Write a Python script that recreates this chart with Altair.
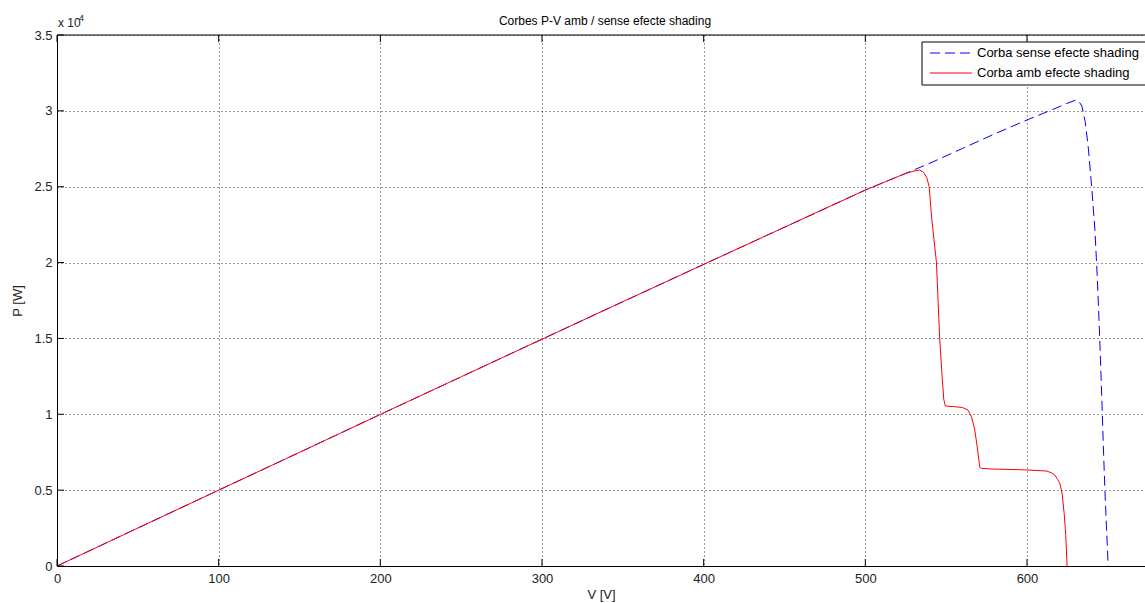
import altair as alt
import pandas as pd

# Series names and colours
series_names = ["Corba sense efecte shading", "Corba amb efecte shading"]
series_colors = ["#0000ff", "#ff0000"]
chart_title = "Corbes P-V amb / sense efecte shading"

# P-V curve without shading (V in volts, P in watts)
v_sense = [0, 50, 100, 150, 200, 250, 300, 350, 400, 450,
           500, 525, 540, 560, 580, 600, 615, 625, 630, 632,
           634, 636, 638, 640, 642, 643.5, 645, 646.3, 647.2, 648.2,
           649.2, 650.2]
p_sense = [0, 2500, 5000, 7490, 9990, 12470, 14950, 17420, 19880, 22330,
           24780, 25880, 26550, 27520, 28480, 29400, 30050, 30500, 30700, 30650,
           30300, 29300, 27500, 25000, 22200, 19000, 15000, 11000, 8000, 5000,
           2500, 0]

# P-V curve with shading
v_amb = [0, 50, 100, 150, 200, 250, 300, 350, 400, 450,
         500, 525, 530, 533.7, 536, 538, 539.5, 541, 542.5, 544,
         546, 547.5, 548.5, 549.5, 555, 560, 563.5, 565.7, 567.7, 569.2,
         570.8, 572, 579, 590, 600, 612, 615, 617.2, 619, 620.3,
         621.7, 623, 624, 624.8]
p_amb = [0, 2500, 5000, 7490, 9990, 12470, 14950, 17420, 19880, 22330,
         24780, 25880, 26030, 26100, 25950, 25600, 25000, 23000, 21500, 20000,
         15000, 12500, 11000, 10550, 10500, 10450, 10280, 9840, 8960, 7860,
         6500, 6430, 6390, 6360, 6330, 6260, 6150, 6000, 5700, 5450,
         4790, 3470, 2000, 0]

x_ticks = [0, 100, 200, 300, 400, 500, 600]
y_ticks = [0, 5000, 10000, 15000, 20000, 25000, 30000, 35000]

W, H = 1088, 531
FONT = "Liberation Sans"
TXT = "#222222"

df_sense = pd.DataFrame({"V": v_sense, "P": p_sense, "corba": series_names[0],
                         "ordre": range(len(v_sense))})
df_amb = pd.DataFrame({"V": v_amb, "P": p_amb, "corba": series_names[1],
                       "ordre": range(len(v_amb))})
df_xt = pd.DataFrame({"V": x_ticks})
df_yt = pd.DataFrame({"P": y_ticks})
df_leg = pd.DataFrame({"corba": series_names})
df_title = pd.DataFrame({"t": [chart_title]})

x_scale = alt.Scale(domain=[0, 673], nice=False)
y_scale = alt.Scale(domain=[0, 35000], nice=False)
color_scale = alt.Scale(domain=series_names, range=series_colors)

x_enc = alt.X("V:Q", scale=x_scale,
              axis=alt.Axis(values=x_ticks, title="V [V]", ticks=False,
                            labelPadding=6, titlePadding=3, labelFlush=False))
y_enc = alt.Y("P:Q", scale=y_scale,
              axis=alt.Axis(values=y_ticks, title="P [W]", ticks=False,
                            labelExpr="datum.value / 10000",
                            labelPadding=5, titlePadding=9, labelFlush=False))
color_enc = alt.Color("corba:N", scale=color_scale, legend=None)

line_sense = alt.Chart(df_sense).mark_line(strokeWidth=1, strokeDash=[10, 5]).encode(
    x=x_enc, y=y_enc, color=color_enc, order="ordre:Q")
line_amb = alt.Chart(df_amb).mark_line(strokeWidth=1).encode(
    x=x_enc, y=y_enc, color=color_enc, order="ordre:Q")

# Inward tick marks on bottom, top and left edges, plus the top frame line
tick_bottom = alt.Chart(df_xt).mark_rule(color="black").encode(
    x=x_enc, y=alt.value(H), y2=alt.value(H - 7))
tick_top = alt.Chart(df_xt).mark_rule(color="black").encode(
    x=x_enc, y=alt.value(0), y2=alt.value(7))
tick_left = alt.Chart(df_yt).mark_rule(color="black").encode(
    y=y_enc, x=alt.value(0), x2=alt.value(7))
frame_top = alt.Chart(df_xt.head(1)).mark_rule(color="black").encode(
    x=alt.value(0), x2=alt.value(W), y=alt.value(0))

# Title above the axes box
title_txt = alt.Chart(df_title).mark_text(
    font=FONT, fontSize=12, color="black", align="center",
    baseline="alphabetic").encode(x=alt.value(548), y=alt.value(-10), text="t:N")

# Exponent label of the P axis
exp_base = alt.Chart(df_xt.head(1)).mark_text(
    text="x 10", font=FONT, fontSize=12, color=TXT, align="left",
    baseline="alphabetic").encode(x=alt.value(1), y=alt.value(-8))
exp_pow = alt.Chart(df_xt.head(1)).mark_text(
    text="4", font=FONT, fontSize=9, color=TXT, align="left",
    baseline="alphabetic").encode(x=alt.value(22), y=alt.value(-14))

# Legend box
leg_box = alt.Chart(df_leg.head(1)).mark_rect(
    fill="white", stroke="black", strokeWidth=1).encode(
    x=alt.value(865), x2=alt.value(1095), y=alt.value(7), y2=alt.value(50))
leg_line1 = alt.Chart(df_leg.iloc[[0]]).mark_rule(
    strokeWidth=1, strokeDash=[10, 5]).encode(
    x=alt.value(873), x2=alt.value(915), y=alt.value(18), color=color_enc)
leg_line2 = alt.Chart(df_leg.iloc[[1]]).mark_rule(strokeWidth=1).encode(
    x=alt.value(873), x2=alt.value(915), y=alt.value(38), color=color_enc)
leg_txt1 = alt.Chart(df_leg.iloc[[0]]).mark_text(
    font=FONT, fontSize=13, color="black", align="left", baseline="middle").encode(
    x=alt.value(920), y=alt.value(18), text="corba:N")
leg_txt2 = alt.Chart(df_leg.iloc[[1]]).mark_text(
    font=FONT, fontSize=13, color="black", align="left", baseline="middle").encode(
    x=alt.value(920), y=alt.value(38), text="corba:N")

chart = alt.layer(
    line_sense, line_amb, tick_bottom, tick_top, tick_left, frame_top,
    title_txt, exp_base, exp_pow, leg_box, leg_line1, leg_line2, leg_txt1, leg_txt2
).properties(
    width=W, height=H,
    autosize=alt.AutoSizeParams(type="none"),
    padding={"left": 57, "top": 35, "right": 0, "bottom": 37},
).configure_view(
    stroke=None
).configure_axis(
    labelFont=FONT, labelFontSize=13, labelColor=TXT,
    titleFont=FONT, titleFontSize=13, titleFontWeight="normal", titleColor=TXT,
    gridColor="#000000", gridDash=[1, 3], gridWidth=1, gridOpacity=0.8,
    domainColor="#000000", domainWidth=1,
)

chart.save("out.html", embed_options={"renderer": "svg", "actions": False})
